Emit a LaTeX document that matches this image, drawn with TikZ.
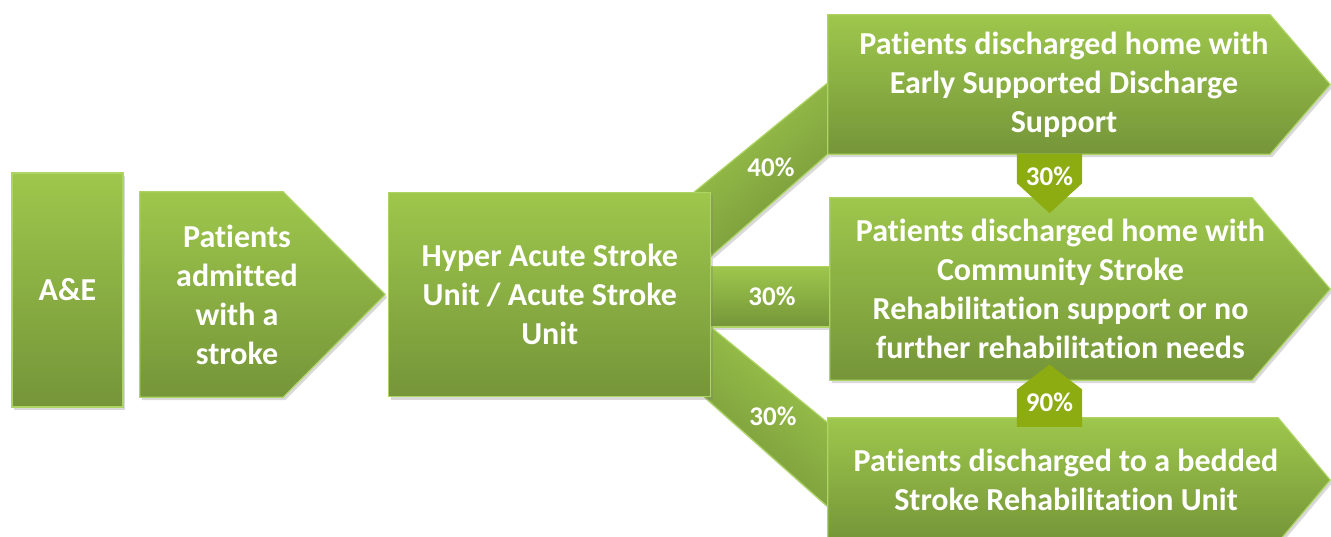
\documentclass[tikz,border=0pt]{standalone}
\usepackage{fontspec}
\setmainfont{Carlito}[Ligatures=NoCommon]
\usetikzlibrary{positioning,calc,backgrounds,shadows}
\pgfdeclarelayer{bands}
\pgfdeclarelayer{tabs}
\pgfsetlayers{bands,background,tabs,main}
\definecolor{greentop}{RGB}{158,199,76}
\definecolor{greenbot}{RGB}{117,149,57}
\definecolor{greenedge}{RGB}{174,212,100}
\definecolor{olive}{RGB}{140,172,18}
\tikzset{stage/.style={text=white,font=\fontsize{32}{39}\selectfont\bfseries,align=center,inner sep=0pt}}
\tikzset{plate/.style={top color=greentop,bottom color=greenbot,draw=greenedge,line width=1.2pt,drop shadow={shadow xshift=2pt,shadow yshift=-3pt,opacity=0.3}}}
\tikzset{block/.style={stage,rectangle,plate}}
\tikzset{band/.style={plate}}
\tikzset{pct/.style={text=white,font=\fontsize{27}{30}\selectfont\bfseries,inner sep=0pt}}
\tikzset{tab/.style={fill=olive}}

\begin{document}
\begin{tikzpicture}[x=1pt,y=-1pt]
    \useasboundingbox (0,0) rectangle (1331,537);

    \node[block,minimum width=111pt,minimum height=234pt] (ae) at (67.5,290) {A\&E};
    \node[stage,minimum width=194pt,minimum height=205pt] (adm) at (237,294.5) {Patients\\admitted\\with a\\stroke};
    \node[block,minimum width=322pt,minimum height=204pt,right=54pt of adm] (hasu) {Hyper Acute Stroke\\Unit / Acute Stroke\\Unit};

    \node[stage,minimum width=472pt,minimum height=139pt] (esd) at (1064,84.5) {Patients discharged home with\\Early Supported Discharge\\Support};
    \node[stage,minimum width=461pt,minimum height=182pt] (csr) at (1060.5,289) {Patients discharged home with\\Community Stroke\\Rehabilitation support or no\\further rehabilitation needs};
    \node[stage,minimum width=476pt,minimum height=124pt] (sru) at (1066,480) {Patients discharged to a bedded\\Stroke Rehabilitation Unit};

    \node[pct,minimum width=65pt,minimum height=44pt] (t30) at (1049.5,176) {30\%};
    \node[pct,minimum width=65pt,minimum height=49.5pt] (t90) at (1049.5,402) {90\%};

    \node[pct] (l40) at (771,167) {40\%};
    \node[pct] (l30a) at (772,296) {30\%};
    \node[pct] (l30b) at (773,416) {30\%};

    % arrow shaped boxes
    \begin{pgfonlayer}{background}
        \path[plate] (adm.north west) -- ($(adm.north east)+(-51,0)$) -- ($(adm.east)+(51,0)$) -- ($(adm.south east)+(-51,0)$) -- (adm.south west) -- cycle;
        \path[plate] (esd.north west) -- ($(esd.north east)+(-30,0)$) -- ($(esd.east)+(30,0)$) -- ($(esd.south east)+(-30,0)$) -- (esd.south west) -- cycle;
        \path[plate] (csr.north west) -- ($(csr.north east)+(-39,0)$) -- ($(csr.east)+(39,0)$) -- ($(csr.south east)+(-39,0)$) -- (csr.south west) -- cycle;
        \path[plate] (sru.north west) -- ($(sru.north east)+(-26,0)$) -- ($(sru.east)+(26,0)$) -- ($(sru.south east)+(-26,0)$) -- (sru.south west) -- cycle;
    \end{pgfonlayer}

    % small tabs between the boxes
    \begin{pgfonlayer}{tabs}
        \path[tab] (t30.north west) -- (t30.north east) -- ($(t30.south east)+(0,-15)$) -- ($(t30.south)+(0,15)$) -- ($(t30.south west)+(0,-15)$) -- cycle;
        \path[tab] (t90.south west) -- (t90.south east) -- ($(t90.north east)+(0,12.5)$) -- ($(t90.north)+(0,-12.5)$) -- ($(t90.north west)+(0,12.5)$) -- cycle;
    \end{pgfonlayer}

    % connectors
    \begin{pgfonlayer}{bands}
        \path[band,shading angle=40] ($(hasu.north east)+(-17,0)$) -- ($(esd.north west)+(0,68)$) -- (esd.south west) -- ($(hasu.north east)+(0,64)$) -- cycle;
        \path[band] ($(hasu.east)+(-5,-28)$) rectangle ($(csr.west)+(5,38)$);
        \path[band,shading angle=-39] ($(hasu.east)+(0,33)$) -- ($(sru.north west)+(0,5)$) -- ($(sru.north west)+(0,89)$) -- ($(hasu.south east)+(-7,0)$) -- cycle;
    \end{pgfonlayer}
\end{tikzpicture}
\end{document}
